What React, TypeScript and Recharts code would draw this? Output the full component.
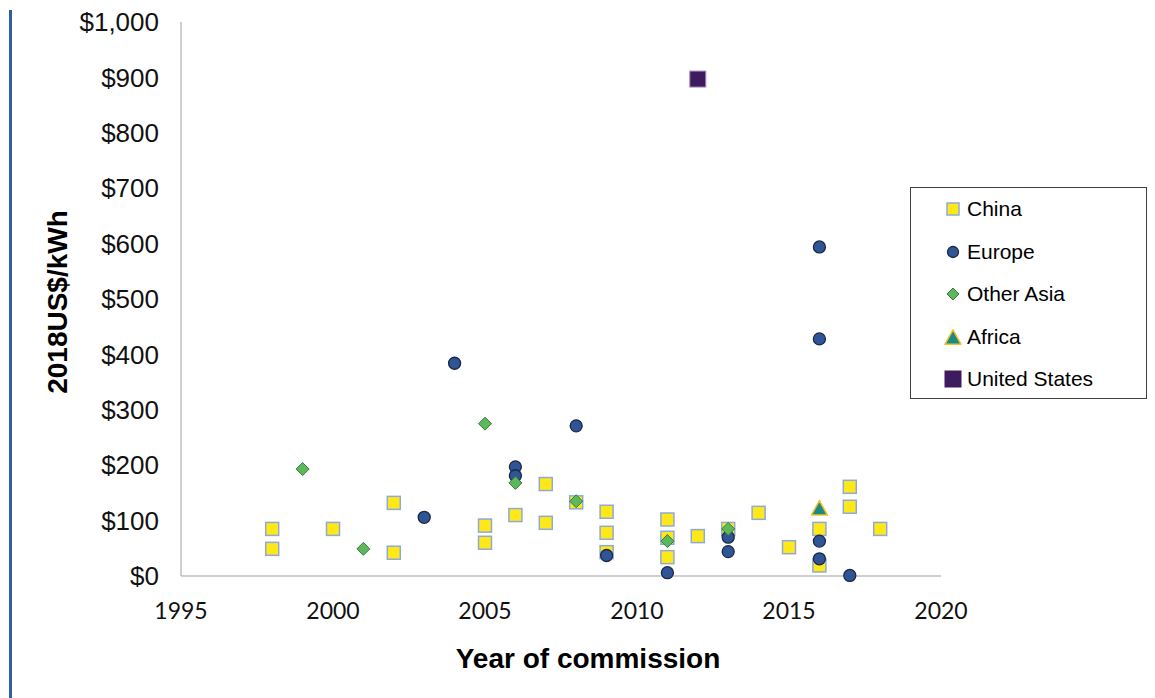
import React from "react";
import {
  ScatterChart, Scatter, XAxis, YAxis, Legend,
} from "recharts";

// ---------------------------------------------------------------------------
// Data
// ---------------------------------------------------------------------------

const chinaYears = [1998, 1998, 2000, 2002, 2002, 2005, 2005, 2006, 2007, 2007, 2008, 2009, 2009, 2009, 2011, 2011, 2011, 2012, 2013, 2014, 2015, 2016, 2016, 2017, 2017, 2018];
const chinaCosts = [85, 49, 85, 132, 42, 91, 60, 110, 166, 96, 133, 116, 78, 43, 102, 69, 34, 72, 85, 114, 52, 85, 19, 161, 125, 85];

const europeYears = [2003, 2004, 2006, 2006, 2008, 2009, 2011, 2013, 2013, 2016, 2016, 2016, 2016, 2017];
const europeCosts = [106, 384, 197, 181, 271, 37, 6, 70, 44, 594, 428, 63, 31, 1];

const otherAsiaYears = [1999, 2001, 2005, 2006, 2008, 2011, 2013];
const otherAsiaCosts = [193, 49, 275, 168, 135, 63, 85];

const africaYears = [2016];
const africaCosts = [123];

const usYears = [2012];
const usCosts = [897];

const SERIES_ORDER = ["China", "Europe", "Other Asia", "Africa", "United States"];
const YEAR_TICKS = [1995, 2000, 2005, 2010, 2015, 2020];
const COST_TICKS = [0, 100, 200, 300, 400, 500, 600, 700, 800, 900, 1000];

const toPoints = (xs: number[], ys: number[]) => xs.map((x, i) => ({ x, y: ys[i] }));

// ---------------------------------------------------------------------------
// Marker shapes
// ---------------------------------------------------------------------------

function SquareMark({ cx, cy, size = 13, fill, stroke, sw = 1.5 }: any) {
  return <rect x={cx - size / 2} y={cy - size / 2} width={size} height={size} fill={fill} stroke={stroke} strokeWidth={sw} />;
}
function CircleMark({ cx, cy, r = 6 }: any) {
  return <circle cx={cx} cy={cy} r={r} fill="#2f5597" stroke="#1c2845" strokeWidth={1.3} />;
}
function DiamondMark({ cx, cy, h = 6.5 }: any) {
  return (
    <path
      d={`M${cx},${cy - h} L${cx + h},${cy} L${cx},${cy + h} L${cx - h},${cy} Z`}
      fill="#5cb85c" stroke="#3a7a3a" strokeWidth={1}
    />
  );
}
function TriangleMark({ cx, cy, w = 16 }: any) {
  const hh = w * 0.9;
  return (
    <path
      d={`M${cx},${cy - hh / 2} L${cx + w / 2},${cy + hh / 2} L${cx - w / 2},${cy + hh / 2} Z`}
      fill="#1b8a83" stroke="#f2c12e" strokeWidth={1.5} strokeLinejoin="round"
    />
  );
}

const chinaShape = (p: any) => <SquareMark cx={p.cx} cy={p.cy} fill="#ffe817" stroke="#8eaadb" />;
const europeShape = (p: any) => <CircleMark cx={p.cx} cy={p.cy} />;
const asiaShape = (p: any) => <DiamondMark cx={p.cx} cy={p.cy} />;
const africaShape = (p: any) => <TriangleMark cx={p.cx} cy={p.cy} />;
const usShape = (p: any) => <SquareMark cx={p.cx} cy={p.cy} size={16} fill="#3e1a5e" stroke="#a48cc4" sw={1} />;

// legend icons, drawn in a 20x20 box
const LEGEND_ICONS: Record<string, React.ReactNode> = {
  "China": <SquareMark cx={10} cy={10} size={12} fill="#ffe817" stroke="#8eaadb" />,
  "Europe": <CircleMark cx={10} cy={10} r={5.5} />,
  "Other Asia": <DiamondMark cx={10} cy={10} h={6} />,
  "Africa": <TriangleMark cx={10} cy={10} w={16} />,
  "United States": <SquareMark cx={10} cy={10} size={16} fill="#3e1a5e" stroke="#3e1a5e" sw={1} />,
};

function BoxLegend({ payload }: any) {
  // keep the series order of the original, not alphabetical
  const items = [...(payload || [])].sort(
    (a: any, b: any) => SERIES_ORDER.indexOf(a.value) - SERIES_ORDER.indexOf(b.value),
  );
  return (
    <div style={{
      boxSizing: "border-box", width: 237, height: 212,
      border: "1px solid #404040", background: "#fff",
      fontFamily: "'Liberation Sans', Arial, sans-serif", fontSize: 21, color: "#000",
    }}>
      {items.map((entry: any) => (
        <div key={entry.value} style={{ display: "flex", alignItems: "center", height: 42.5, paddingLeft: 32 }}>
          <svg width={20} height={20} style={{ marginRight: 4, overflow: "visible" }}>
            {LEGEND_ICONS[entry.value]}
          </svg>
          <span>{entry.value}</span>
        </div>
      ))}
    </div>
  );
}

const fmtUsd = (v: number) => `$${v.toLocaleString("en-US")}`;

const axisStroke = { stroke: "#bfbfbf", strokeWidth: 1.5 };

// ---------------------------------------------------------------------------
// Chart
// ---------------------------------------------------------------------------

export default function App() {
  return (
    <div style={{ position: "absolute", left: 0, top: 0, width: 1155, height: 698, background: "#fff" }}>
      {/* blue rule along the page's left edge */}
      <div style={{ position: "absolute", left: 9, top: 10, width: 3, height: 688, background: "#2e5fa3" }} />

      <ScatterChart
        width={1155}
        height={698}
        margin={{ top: 22, right: 214, bottom: 0, left: 0 }}
      >
        <XAxis
          type="number"
          dataKey="x"
          domain={[1995, 2020]}
          ticks={YEAR_TICKS}
          height={122}
          tickLine={false}
          tickSize={0}
          tickMargin={27}
          axisLine={axisStroke}
          tick={{ fill: "#111", fontSize: 23, fontFamily: "Lato, 'Open Sans', sans-serif" }}
          label={{
            content: ({ viewBox }: any) => (
              <text
                x={viewBox.x + viewBox.width / 2 + 27}
                y={viewBox.y + 92}
                textAnchor="middle"
                fontFamily="'Liberation Sans', Arial, sans-serif"
                fontWeight="bold"
                fontSize={28}
                fill="#000"
              >
                Year of commission
              </text>
            ),
          }}
        />
        <YAxis
          type="number"
          dataKey="y"
          domain={[0, 1000]}
          ticks={COST_TICKS}
          width={181}
          tickLine={false}
          tickSize={0}
          tickMargin={22}
          axisLine={axisStroke}
          tickFormatter={fmtUsd}
          tick={{ fill: "#111", fontSize: 26, fontFamily: "'Liberation Sans', Arial, sans-serif" }}
          label={{
            content: ({ viewBox }: any) => {
              const x = viewBox.x + 57;
              const y = viewBox.y + viewBox.height / 2 + 3;
              return (
                <text
                  x={x}
                  y={y}
                  transform={`rotate(-90, ${x}, ${y})`}
                  textAnchor="middle"
                  dominantBaseline="central"
                  fontFamily="'Liberation Sans', Arial, sans-serif"
                  fontWeight="bold"
                  fontSize={28}
                  fill="#000"
                >
                  2018US$/kWh
                </text>
              );
            },
          }}
        />

        <Legend
          layout="vertical"
          align="center"
          verticalAlign="middle"
          content={<BoxLegend />}
          wrapperStyle={{ left: 910, top: 187, width: 237, height: 212 }}
        />

        <Scatter name="China" data={toPoints(chinaYears, chinaCosts)} fill="#ffe817" shape={chinaShape} isAnimationActive={false} />
        <Scatter name="Europe" data={toPoints(europeYears, europeCosts)} fill="#2f5597" shape={europeShape} isAnimationActive={false} />
        <Scatter name="Other Asia" data={toPoints(otherAsiaYears, otherAsiaCosts)} fill="#5cb85c" shape={asiaShape} isAnimationActive={false} />
        <Scatter name="Africa" data={toPoints(africaYears, africaCosts)} fill="#1b8a83" shape={africaShape} isAnimationActive={false} />
        <Scatter name="United States" data={toPoints(usYears, usCosts)} fill="#3e1a5e" shape={usShape} isAnimationActive={false} />
      </ScatterChart>
    </div>
  );
}
